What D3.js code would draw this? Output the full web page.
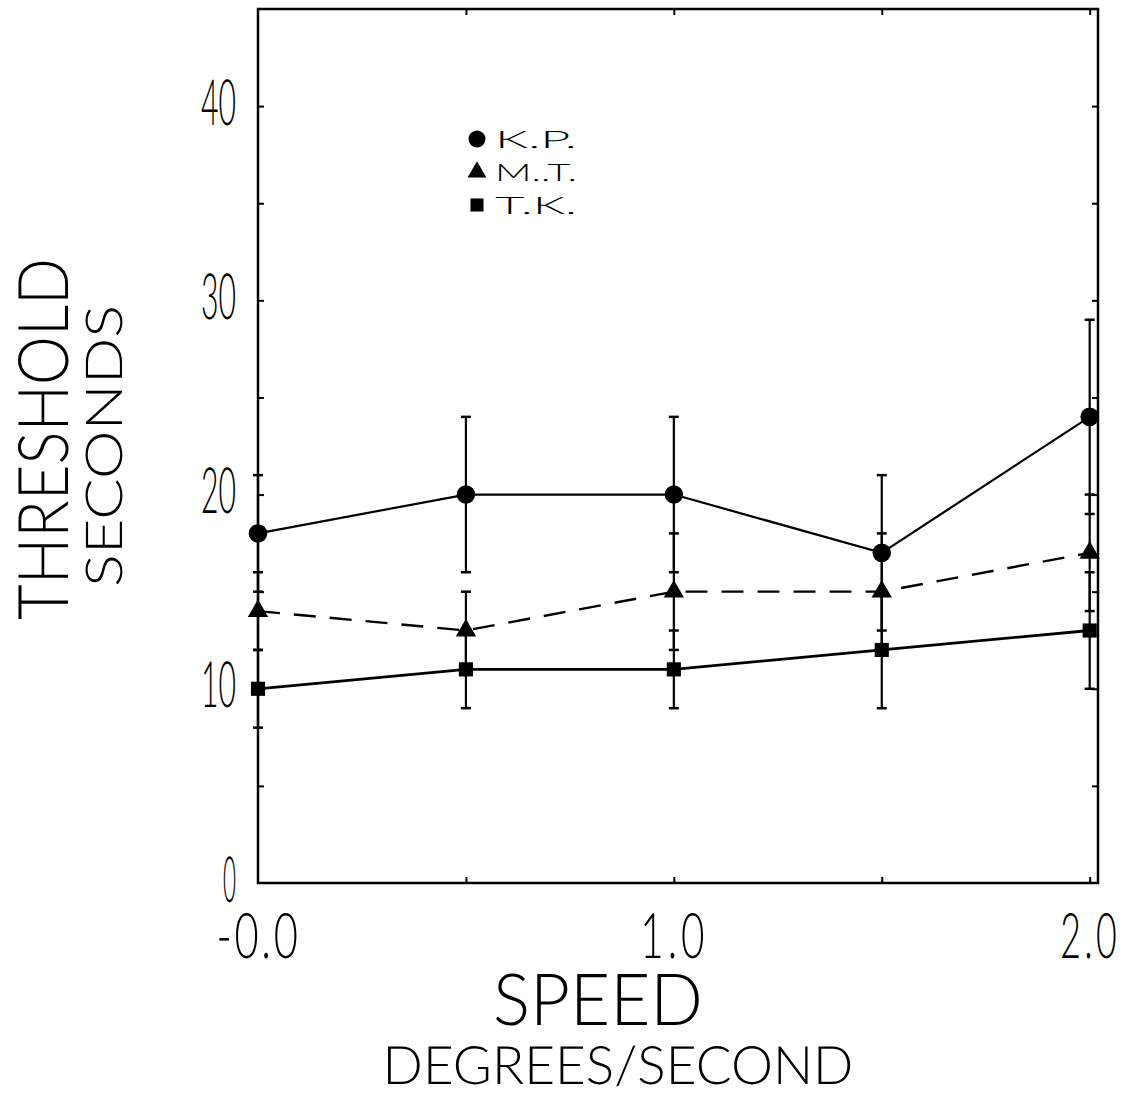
<!DOCTYPE html>
<html>
<head>
<meta charset="utf-8">
<script src="https://cdn.jsdelivr.net/npm/d3@7"></script>
<style>
  html, body { margin: 0; padding: 0; background: #fff; }
  svg { display: block; }
  text { font-family: Lato, "Open Sans", "DejaVu Sans", sans-serif; font-weight: 300; fill: #000; text-rendering: geometricPrecision; }
</style>
</head>
<body>
<svg id="chart" width="1132" height="1095"></svg>
<script>
// ---- data ----
const speeds = [0, 0.5, 1.0, 1.5, 2.0];
const kpValues = [18, 20, 20, 17, 24];
const kpErrors = [3, 4, 4, 4, 5];
const mtValues = [14, 13, 15, 15, 17];
const mtErrors = [2, 2, 3, 3, 3];
const tkValues = [10, 11, 11, 12, 13];
const tkErrors = [2, 2, 2, 3, 3];
const seriesNames = ["K.P.", "M..T.", "T.K."];
const yTickLabels = [0, 10, 20, 30, 40];
const xTickLabels = ["-0.0", "1.0", "2.0"];
const xLabelValues = [0, 1, 2];
const yTitle = "THRESHOLD";
const ySubTitle = "SECONDS";
const xTitle = "SPEED";
const xSubTitle = "DEGREES/SECOND";

const svg = d3.select("#chart");
const pLeft = 258, pRight = 1098, pTop = 9, pBottom = 883;
const x = d3.scaleLinear().domain([0, 2.02]).range([pLeft, pRight]);
const y = d3.scaleLinear().domain([0, 45]).range([pBottom, pTop]);

// frame
svg.append("rect").attr("x", pLeft).attr("y", pTop)
  .attr("width", pRight - pLeft).attr("height", pBottom - pTop)
  .attr("fill", "none").attr("stroke", "#000").attr("stroke-width", 2.5);

// inward ticks
const yMinor = d3.range(5, 45, 5);
const xMinor = [0.5, 1.0, 1.5, 2.0];
const tickStyle = g => { g.select(".domain").remove(); g.selectAll("line").attr("stroke", "#000").attr("stroke-width", 2); g.selectAll("text").remove(); };
svg.append("g").attr("transform", `translate(${pLeft},0)`)
  .call(d3.axisRight(y).tickValues(yMinor).tickSize(6)).call(tickStyle);
svg.append("g").attr("transform", `translate(${pRight},0)`)
  .call(d3.axisLeft(y).tickValues(yMinor).tickSize(6)).call(tickStyle);
svg.append("g").attr("transform", `translate(0,${pBottom})`)
  .call(d3.axisTop(x).tickValues(xMinor).tickSize(6)).call(tickStyle);
svg.append("g").attr("transform", `translate(0,${pTop})`)
  .call(d3.axisBottom(x).tickValues(xMinor).tickSize(6)).call(tickStyle);

// horizontally squeeze a text to a target width (keeps the real box small)
function squeeze(sel, widthFn) {
  sel.each(function (d, i) {
    const t = d3.select(this);
    const w = this.getComputedTextLength();
    const sx = widthFn(d, i) / w;
    const x0 = +t.attr("x") || 0;
    t.attr("x", x0 / sx).attr("transform", `scale(${sx},1)`);
  });
}

const yAx = svg.append("g").attr("transform", `translate(${pLeft},0)`)
  .call(d3.axisLeft(y).tickValues(yTickLabels).tickSize(0).tickPadding(22).tickFormat(d3.format("d")));
yAx.select(".domain").remove();
yAx.selectAll("text")
  .attr("font-size", 64).attr("font-family", "Lato, sans-serif").attr("font-weight", 400)
  .attr("dy", 18).attr("fill", "#000")
  .call(squeeze, d => String(d).length === 1 ? 13 : 35);

const xLabelWidths = [84, 68, 60];
const xAx = svg.append("g").attr("transform", `translate(0,${pBottom})`)
  .call(d3.axisBottom(x).tickValues(xLabelValues).tickSize(0).tickPadding(0)
    .tickFormat((d, i) => xTickLabels[i]));
xAx.select(".domain").remove();
xAx.selectAll("text")
  .attr("font-size", 63).attr("font-family", "Lato, sans-serif").attr("font-weight", 400)
  .attr("y", 75).attr("dy", 0).attr("fill", "#000")
  .attr("letter-spacing", (d, i) => i === 0 ? 4 : 6)
  .call(squeeze, (d, i) => xLabelWidths[i]);

// axis titles
svg.append("text").attr("transform", "translate(68,439) rotate(-90)")
  .attr("text-anchor", "middle").attr("font-size", 70)
  .attr("textLength", 362).attr("lengthAdjust", "spacingAndGlyphs").text(yTitle);
svg.append("text").attr("transform", "translate(122,446) rotate(-90)")
  .attr("text-anchor", "middle").attr("font-size", 51)
  .attr("textLength", 282).attr("lengthAdjust", "spacingAndGlyphs").text(ySubTitle);
svg.append("text").attr("x", 598).attr("y", 1025)
  .attr("text-anchor", "middle").attr("font-size", 72)
  .attr("textLength", 210).attr("lengthAdjust", "spacingAndGlyphs").text(xTitle);
svg.append("text").attr("x", 618).attr("y", 1084)
  .attr("text-anchor", "middle").attr("font-size", 53)
  .attr("textLength", 471).attr("lengthAdjust", "spacingAndGlyphs").text(xSubTitle);

// series
const series = [
  { name: seriesNames[0], values: kpValues, errors: kpErrors, symbol: d3.symbolCircle, size: 270, dash: null, width: 2.2 },
  { name: seriesNames[1], values: mtValues, errors: mtErrors, symbol: d3.symbolTriangle, size: 180, dash: "22,14", width: 2.4 },
  { name: seriesNames[2], values: tkValues, errors: tkErrors, symbol: d3.symbolSquare, size: 200, dash: null, width: 2.8 }
];

const line = d3.line().x(d => x(d.s)).y(d => y(d.v));

series.forEach(sr => {
  const pts = speeds.map((s, i) => ({ s, v: sr.values[i], e: sr.errors[i] }));
  const g = svg.append("g");
  pts.forEach(p => {
    g.append("line").attr("x1", x(p.s)).attr("x2", x(p.s))
      .attr("y1", y(p.v - p.e)).attr("y2", y(p.v + p.e))
      .attr("stroke", "#000").attr("stroke-width", 2.2);
    [p.v - p.e, p.v + p.e].forEach(v => {
      g.append("line").attr("x1", x(p.s) - 5).attr("x2", x(p.s) + 5)
        .attr("y1", y(v)).attr("y2", y(v))
        .attr("stroke", "#000").attr("stroke-width", 2.5);
    });
  });
  g.append("path").datum(pts).attr("d", line)
    .attr("fill", "none").attr("stroke", "#000").attr("stroke-width", sr.width)
    .attr("stroke-dasharray", sr.dash);
  g.selectAll("path.m").data(pts).enter().append("path").attr("class", "m")
    .attr("transform", d => `translate(${x(d.s)},${y(d.v)})`)
    .attr("d", d3.symbol().type(sr.symbol).size(sr.size)).attr("fill", "#000");
});

// legend
const legRows = [139, 172, 205];
series.forEach((sr, i) => {
  svg.append("path").attr("transform", `translate(477,${legRows[i]})`)
    .attr("d", d3.symbol().type(sr.symbol).size(sr.size * 0.85)).attr("fill", "#000");
  svg.append("text").attr("x", 495).attr("y", legRows[i] + 9)
    .attr("font-size", 24).attr("font-weight", 400)
    .attr("textLength", 82).attr("lengthAdjust", "spacingAndGlyphs").text(sr.name);
});
</script>
</body>
</html>
